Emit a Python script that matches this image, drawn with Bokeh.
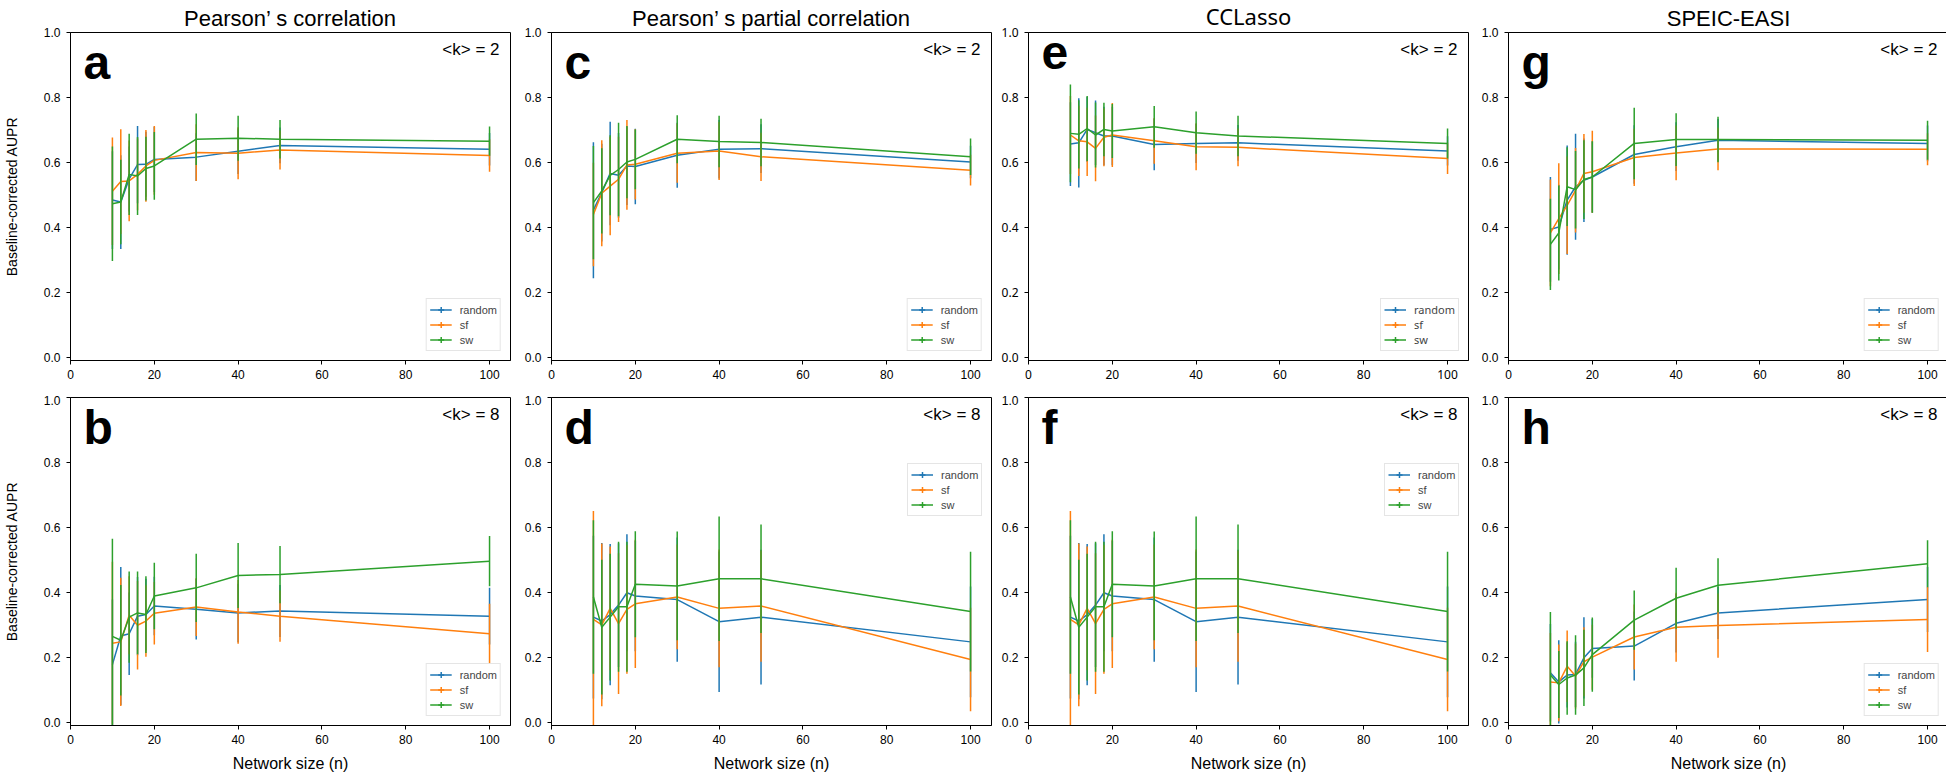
import numpy as np
from bokeh.plotting import figure
from bokeh.layouts import row, column
from bokeh.models import (ColumnDataSource, Range1d, Legend, LegendItem, Label,
                          PrintfTickFormatter)
from bokeh.embed import file_html
from bokeh.resources import INLINE

# ---------------- data ----------------
network_sizes = [10, 12, 14, 16, 18, 20, 30, 40, 50, 100]
x_ticks = [0, 20, 40, 60, 80, 100]
y_ticks = [0.0, 0.2, 0.4, 0.6, 0.8, 1.0]
series_names = ["random", "sf", "sw"]
series_colors = ["#1f77b4", "#ff7f0e", "#2ca02c"]
method_titles = ["Pearson\u2019 s correlation", "Pearson\u2019 s partial correlation", "CCLasso", "SPEIC-EASI"]
panel_letters = [["a", "c", "e", "g"], ["b", "d", "f", "h"]]
degree_labels = ["<k> = 2", "<k> = 8"]
x_label = "Network size (n)"
y_label = "Baseline-corrected AUPR"

# a: Pearson, <k>=2
a_random_mean = [0.485, 0.479, 0.55, 0.594, 0.595, 0.61, 0.617, 0.635, 0.653, 0.641]
a_random_std = [0.15, 0.144, 0.1, 0.119, 0.1, 0.1, 0.073, 0.07, 0.055, 0.05]
a_sf_mean = [0.512, 0.542, 0.544, 0.564, 0.59, 0.607, 0.631, 0.629, 0.639, 0.622]
a_sf_std = [0.165, 0.161, 0.124, 0.11, 0.11, 0.106, 0.087, 0.08, 0.06, 0.05]
a_sw_mean = [0.474, 0.479, 0.564, 0.559, 0.582, 0.59, 0.672, 0.675, 0.672, 0.666]
a_sw_std = [0.176, 0.13, 0.125, 0.12, 0.098, 0.104, 0.079, 0.069, 0.059, 0.045]

# b: Pearson, <k>=8
b_random_mean = [0.179, 0.267, 0.274, 0.328, 0.333, 0.359, 0.349, 0.338, 0.344, 0.328]
b_random_std = [0.2, 0.212, 0.127, 0.12, 0.11, 0.09, 0.093, 0.09, 0.08, 0.087]
b_sf_mean = [0.245, 0.249, 0.331, 0.3, 0.313, 0.337, 0.356, 0.341, 0.328, 0.274]
b_sf_std = [0.25, 0.197, 0.12, 0.136, 0.11, 0.096, 0.089, 0.098, 0.079, 0.092]
b_sw_mean = [0.266, 0.254, 0.325, 0.338, 0.333, 0.39, 0.415, 0.453, 0.456, 0.497]
b_sw_std = [0.30, 0.17, 0.14, 0.127, 0.118, 0.102, 0.105, 0.1, 0.088, 0.077]

# c: partial correlation, <k>=2
c_random_mean = [0.454, 0.508, 0.567, 0.561, 0.59, 0.588, 0.623, 0.641, 0.643, 0.602]
c_random_std = [0.209, 0.15, 0.159, 0.13, 0.12, 0.116, 0.1, 0.09, 0.075, 0.05]
c_sf_mean = [0.441, 0.506, 0.528, 0.549, 0.593, 0.595, 0.629, 0.636, 0.618, 0.577]
c_sf_std = [0.159, 0.163, 0.151, 0.131, 0.138, 0.108, 0.091, 0.089, 0.074, 0.047]
c_sw_mean = [0.477, 0.513, 0.561, 0.579, 0.602, 0.61, 0.672, 0.665, 0.662, 0.618]
c_sw_std = [0.174, 0.131, 0.123, 0.144, 0.111, 0.092, 0.074, 0.079, 0.073, 0.056]

# d: partial correlation, <k>=8
d_random_mean = [0.325, 0.313, 0.333, 0.362, 0.4, 0.39, 0.379, 0.311, 0.325, 0.249]
d_random_std = [0.25, 0.24, 0.217, 0.19, 0.18, 0.17, 0.191, 0.216, 0.207, 0.17]
d_sf_mean = [0.318, 0.301, 0.352, 0.305, 0.349, 0.366, 0.387, 0.352, 0.359, 0.195]
d_sf_std = [0.333, 0.25, 0.19, 0.216, 0.198, 0.197, 0.161, 0.181, 0.171, 0.159]
d_sw_mean = [0.387, 0.294, 0.325, 0.357, 0.357, 0.426, 0.421, 0.443, 0.443, 0.342]
d_sw_std = [0.236, 0.207, 0.195, 0.2, 0.2, 0.163, 0.167, 0.191, 0.167, 0.184]

# e: CCLasso, <k>=2
e_random_mean = [0.657, 0.661, 0.702, 0.692, 0.682, 0.682, 0.656, 0.659, 0.661, 0.636]
e_random_std = [0.129, 0.137, 0.1, 0.099, 0.09, 0.09, 0.079, 0.06, 0.055, 0.045]
e_sf_mean = [0.685, 0.667, 0.664, 0.644, 0.678, 0.685, 0.667, 0.649, 0.647, 0.613]
e_sf_std = [0.12, 0.108, 0.105, 0.101, 0.089, 0.098, 0.07, 0.072, 0.058, 0.048]
e_sw_mean = [0.69, 0.687, 0.705, 0.685, 0.702, 0.697, 0.71, 0.692, 0.682, 0.659]
e_sw_std = [0.15, 0.105, 0.1, 0.1, 0.082, 0.083, 0.064, 0.065, 0.062, 0.046]

# f: CCLasso, <k>=8
f_random_mean = [0.325, 0.313, 0.333, 0.362, 0.4, 0.39, 0.379, 0.311, 0.325, 0.249]
f_random_std = [0.25, 0.24, 0.217, 0.19, 0.18, 0.17, 0.191, 0.216, 0.207, 0.17]
f_sf_mean = [0.318, 0.301, 0.352, 0.305, 0.349, 0.366, 0.387, 0.352, 0.359, 0.195]
f_sf_std = [0.333, 0.25, 0.19, 0.216, 0.198, 0.197, 0.161, 0.181, 0.171, 0.159]
f_sw_mean = [0.387, 0.294, 0.325, 0.357, 0.357, 0.426, 0.421, 0.443, 0.443, 0.342]
f_sw_std = [0.236, 0.207, 0.195, 0.2, 0.2, 0.163, 0.167, 0.191, 0.167, 0.184]

# g: SPEIC-EASI, <k>=2
g_random_mean = [0.395, 0.402, 0.485, 0.526, 0.546, 0.556, 0.625, 0.649, 0.669, 0.659]
g_random_std = [0.161, 0.13, 0.168, 0.163, 0.128, 0.11, 0.09, 0.075, 0.065, 0.055]
g_sf_mean = [0.384, 0.428, 0.469, 0.515, 0.567, 0.572, 0.616, 0.63, 0.642, 0.641]
g_sf_std = [0.164, 0.17, 0.15, 0.13, 0.121, 0.126, 0.088, 0.084, 0.065, 0.049]
g_sw_mean = [0.349, 0.384, 0.526, 0.517, 0.548, 0.556, 0.659, 0.671, 0.671, 0.669]
g_sw_std = [0.14, 0.146, 0.121, 0.119, 0.121, 0.11, 0.11, 0.081, 0.07, 0.06]

# h: SPEIC-EASI, <k>=8
h_random_mean = [0.154, 0.126, 0.147, 0.149, 0.2, 0.229, 0.236, 0.306, 0.338, 0.379]
h_random_std = [0.15, 0.128, 0.1, 0.1, 0.125, 0.09, 0.106, 0.09, 0.08, 0.1]
h_sf_mean = [0.126, 0.123, 0.174, 0.144, 0.188, 0.202, 0.264, 0.294, 0.299, 0.318]
h_sf_std = [0.15, 0.118, 0.11, 0.1, 0.106, 0.1, 0.1, 0.106, 0.099, 0.1]
h_sw_mean = [0.147, 0.118, 0.138, 0.147, 0.169, 0.21, 0.316, 0.383, 0.423, 0.489]
h_sw_std = [0.194, 0.103, 0.113, 0.122, 0.117, 0.114, 0.091, 0.094, 0.083, 0.072]

panel_data = {
    "a": [(a_random_mean, a_random_std), (a_sf_mean, a_sf_std), (a_sw_mean, a_sw_std)],
    "b": [(b_random_mean, b_random_std), (b_sf_mean, b_sf_std), (b_sw_mean, b_sw_std)],
    "c": [(c_random_mean, c_random_std), (c_sf_mean, c_sf_std), (c_sw_mean, c_sw_std)],
    "d": [(d_random_mean, d_random_std), (d_sf_mean, d_sf_std), (d_sw_mean, d_sw_std)],
    "e": [(e_random_mean, e_random_std), (e_sf_mean, e_sf_std), (e_sw_mean, e_sw_std)],
    "f": [(f_random_mean, f_random_std), (f_sf_mean, f_sf_std), (f_sw_mean, f_sw_std)],
    "g": [(g_random_mean, g_random_std), (g_sf_mean, g_sf_std), (g_sw_mean, g_sw_std)],
    "h": [(h_random_mean, h_random_std), (h_sf_mean, h_sf_std), (h_sw_mean, h_sw_std)],
}

# ---------------- layout / style ----------------
FONT = "Liberation Sans"
FW, FH = 440, 328
left_borders = [66, 39, 35, 38]
right_borders = [2, 2, 2, 1]
upper_legend_panels = {"d", "f"}

rows = []
for r in range(2):
    row_figs = []
    for c in range(4):
        letter = panel_letters[r][c]
        tick_font = "Noto Sans" if letter == "e" else FONT
        p = figure(frame_width=FW, frame_height=FH,
                   x_range=Range1d(0, 105), y_range=Range1d(-0.008, 1.0),
                   output_backend="svg", toolbar_location=None,
                   min_border_left=left_borders[c], min_border_right=right_borders[c],
                   min_border_top=29 if r == 0 else 2,
                   min_border_bottom=35 if r == 0 else 48)
        p.background_fill_color = "white"
        p.border_fill_color = "white"
        p.xgrid.visible = False
        p.ygrid.visible = False
        p.outline_line_color = "black"
        p.outline_line_alpha = 1.0
        p.outline_line_width = 1

        if r == 0:
            p.title.text = method_titles[c]
            p.title.align = "center"
            p.title.vertical_align = "top"
            p.title.text_font = "Noto Sans" if letter == "e" else FONT
            p.title.text_font_size = "22px"
            p.title.text_font_style = "normal"
            p.title.text_color = "black"
            p.title.text_line_height = 0.85
            p.title.standoff = 0
            p.title.offset = 0

        for ax in (p.xaxis[0], p.yaxis[0]):
            ax.axis_line_color = "black"
            ax.axis_line_width = 1
            ax.major_tick_line_color = "black"
            ax.major_tick_out = 4
            ax.major_tick_in = 0
            ax.minor_tick_line_color = None
            ax.major_label_text_font = tick_font
            ax.major_label_text_font_size = "12px"
            ax.major_label_text_color = "black"
            ax.axis_label_text_font = FONT
            ax.axis_label_text_font_style = "normal"
            ax.axis_label_text_color = "black"
        p.xaxis.ticker = x_ticks
        p.yaxis.ticker = y_ticks
        p.yaxis.formatter = PrintfTickFormatter(format="%.1f")
        p.xaxis.major_label_standoff = 5
        p.yaxis.major_label_standoff = 6
        if c == 0:
            p.yaxis.axis_label = y_label
            p.yaxis.axis_label_text_font_size = "14px"
            p.yaxis.axis_label_standoff = 21
        if r == 1:
            p.xaxis.axis_label = x_label
            p.xaxis.axis_label_text_font_size = "16px"
            p.xaxis.axis_label_standoff = 8

        items = []
        for (mean, std), name, color in zip(panel_data[letter], series_names, series_colors):
            m = np.array(mean)
            s = np.array(std)
            src = ColumnDataSource(dict(x=network_sizes, mean=m, lo=m - s, hi=m + s))
            lr = p.line("x", "mean", source=src, line_color=color, line_width=1.5)
            p.segment(x0="x", y0="lo", x1="x", y1="hi", source=src,
                      line_color=color, line_width=1.5)
            cr = p.scatter("x", "mean", source=src, marker="cross", size=0,
                           line_color=color, line_width=1.5)
            items.append(LegendItem(label=name, renderers=[lr, cr]))

        legend = Legend(items=items)
        if letter in upper_legend_panels:
            legend.location = (FW - 84, 209)
        else:
            legend.location = "bottom_right"
        legend.margin = 9
        legend.padding = 3
        legend.spacing = -2
        legend.glyph_width = 22
        legend.glyph_height = 15
        legend.label_height = 15
        legend.label_standoff = 8
        legend.label_text_font = tick_font
        legend.label_text_font_size = "11px"
        legend.border_line_color = "#cccccc"
        legend.border_line_width = 1
        legend.background_fill_alpha = 0.85
        p.add_layout(legend)

        p.add_layout(Label(x=13, y=FH - 3, x_units="screen", y_units="screen",
                           text=letter, text_font=FONT, text_font_size="48px",
                           text_font_style="bold", text_baseline="top",
                           text_color="black"))
        p.add_layout(Label(x=FW - 11, y=FH - 7, x_units="screen", y_units="screen",
                           text=degree_labels[r], text_font=FONT, text_font_size="17px",
                           text_align="right", text_baseline="top",
                           text_color="black"))
        row_figs.append(p)
    rows.append(row(*row_figs, spacing=0))

layout = column(*rows, spacing=0)

open("out.html", "w").write(file_html(layout, INLINE))
